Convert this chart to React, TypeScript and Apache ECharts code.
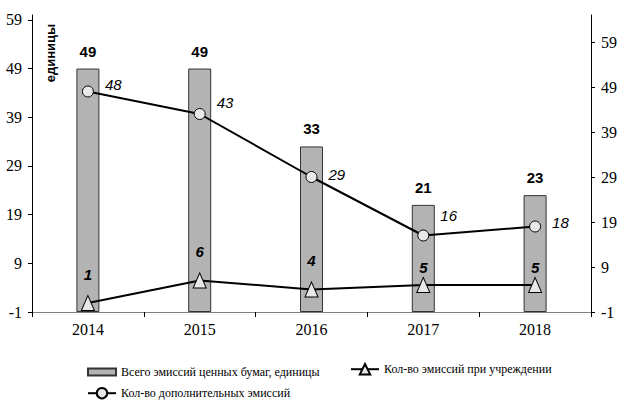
import React, { useEffect, useRef } from 'react';
import * as echarts from 'echarts';

const years = ['2014', '2015', '2016', '2017', '2018'];
const totalIssues = [49, 49, 33, 21, 23];
const foundingIssues = [1, 6, 4, 5, 5];
const additionalIssues = [48, 43, 29, 16, 18];
const leftTicks = [-1, 9, 19, 29, 39, 49, 59];
const rightTicks = [-1, 9, 19, 29, 39, 49, 59];

const nameTotal = 'Всего эмиссий ценных бумаг, единицы';
const nameFounding = 'Кол-во эмиссий при учреждении';
const nameAdditional = 'Кол-во дополнительных эмиссий';

// label placement tweaks (layout only)
const foundingLabelShift = [0, 0, 0, 11, 11];
const additionalLabelShift = [-1, -6, 3, -14, 2];

const SERIF = 'Liberation Serif';
const SANS = 'Liberation Sans';

export default function App() {
  const ref = useRef<HTMLDivElement>(null);
  useEffect(() => {
    if (!ref.current) return;
    const chart = echarts.init(ref.current, null, { renderer: 'svg' });
    const axisLabelStyle = { fontFamily: SERIF, fontSize: 16, color: '#000' };
    const legendText = { fontFamily: SERIF, fontSize: 12, color: '#000' };
    chart.setOption({
      animation: false,
      backgroundColor: '#fff',
      grid: { left: 32, right: 44, top: 15, bottom: 89 },
      legend: [
        {
          data: [{ name: nameTotal, icon: 'rect' }],
          left: 87, top: 366, padding: 0, itemWidth: 28, itemHeight: 7,
          textStyle: legendText,
        },
        {
          data: [nameFounding],
          left: 350, top: 363, padding: 0, itemWidth: 28, itemHeight: 13,
          textStyle: legendText,
        },
        {
          data: [nameAdditional],
          left: 87, top: 387, padding: 0, itemWidth: 28, itemHeight: 13,
          textStyle: legendText,
        },
      ],
      graphic: [
        {
          type: 'text', x: 50, y: 53, rotation: Math.PI / 2,
          style: {
            text: 'единицы', fontFamily: SANS, fontSize: 13, fontWeight: 'bold',
            fill: '#000', align: 'center', verticalAlign: 'middle',
          },
        },
      ],
      xAxis: {
        type: 'category',
        data: years,
        boundaryGap: true,
        axisLine: { onZero: false, lineStyle: { color: '#808080', width: 1 } },
        axisTick: { show: true, interval: 0, length: 5, lineStyle: { color: '#000' } },
        axisLabel: { ...axisLabelStyle, margin: 9 },
        splitLine: { show: false },
      },
      yAxis: [
        {
          type: 'value', min: -1, max: 60, startValue: -1,
          axisLine: { show: true, lineStyle: { color: '#000', width: 1 } },
          axisTick: { show: true, length: 4, customValues: leftTicks, lineStyle: { color: '#000' } },
          axisLabel: { ...axisLabelStyle, margin: 10, customValues: leftTicks },
          splitLine: { show: false },
        },
        {
          type: 'value', min: -1, max: 65, position: 'right',
          axisLine: { show: true, lineStyle: { color: '#000', width: 1 } },
          axisTick: { show: true, length: 4, customValues: rightTicks, lineStyle: { color: '#000' } },
          axisLabel: { ...axisLabelStyle, margin: 10, customValues: rightTicks },
          splitLine: { show: false },
        },
      ],
      series: [
        {
          name: nameTotal,
          type: 'bar',
          yAxisIndex: 0,
          data: totalIssues,
          barWidth: 23,
          itemStyle: { color: '#b3b3b3', borderColor: '#333', borderWidth: 1 },
          label: {
            show: true, position: 'top', distance: 10,
            fontFamily: SANS, fontSize: 15, fontWeight: 'bold', color: '#000',
          },
        },
        {
          name: nameFounding,
          type: 'line',
          yAxisIndex: 1,
          data: foundingIssues.map((v, i) => ({
            value: v,
            label: { offset: [0, foundingLabelShift[i]] },
          })),
          symbol: 'triangle',
          symbolSize: [13, 15],
          itemStyle: { color: '#e8e8e8', borderColor: '#000', borderWidth: 1 },
          lineStyle: { color: '#000', width: 2 },
          label: {
            show: true, position: 'top', distance: 13,
            fontFamily: SANS, fontSize: 15, fontWeight: 'bold', fontStyle: 'italic', color: '#000',
          },
        },
        {
          name: nameAdditional,
          type: 'line',
          yAxisIndex: 1,
          data: additionalIssues.map((v, i) => ({
            value: v,
            label: { offset: [0, -6 + additionalLabelShift[i]] },
          })),
          symbol: 'circle',
          symbolSize: 11,
          itemStyle: { color: '#e8e8e8', borderColor: '#000', borderWidth: 1 },
          lineStyle: { color: '#000', width: 2 },
          label: {
            show: true, position: 'right', distance: 11,
            fontFamily: SANS, fontSize: 15, fontStyle: 'italic', color: '#000',
          },
        },
      ],
    });
    return () => chart.dispose();
  }, []);
  return (
    <div
      ref={ref}
      style={{ position: 'fixed', left: 0, top: 0, width: 635, height: 401 }}
    />
  );
}
